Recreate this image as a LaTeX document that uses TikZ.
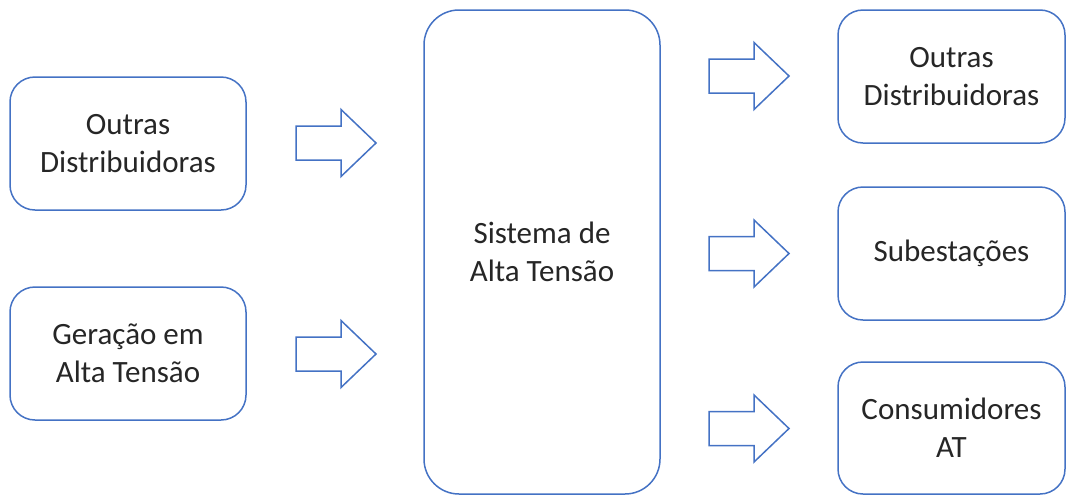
\documentclass[tikz,border=0pt]{standalone}
\usepackage{fontspec}
\setmainfont{Carlito}
\usetikzlibrary{positioning}
\definecolor{boxblue}{HTML}{4472C4}
\definecolor{textgray}{HTML}{262626}
\tikzset{
  block/.style={draw=boxblue, line width=1.5pt, rounded corners=25pt, align=center,
    inner sep=0pt, text=textgray, font=\fontsize{31}{38}\selectfont},
  bigarrow/.style={draw=boxblue, line width=1.5pt, line join=miter}
}
\begin{document}
\begin{tikzpicture}[x=1pt,y=-1pt]
\useasboundingbox (0,0) rectangle (1067,496);
% Input blocks
\node[block, minimum width=236pt, minimum height=133pt] (outrasin) at (128,143.5) {Outras\\Distribuidoras};
\node[block, minimum width=236pt, minimum height=133pt] (geracao) at (128,353.5) {Geração em\\Alta Tensão};
% Central system
\node[block, rounded corners=35pt, minimum width=236pt, minimum height=484pt] (sistema) at (542,252) {Sistema de\\Alta Tensão};
% Output blocks
\node[block, minimum width=227pt, minimum height=133pt] (outrasout) at (951.5,76.5) {Outras\\Distribuidoras};
\node[block, minimum width=227pt, minimum height=133pt] (subest) at (951.5,253.5) {Subestações};
\node[block, minimum width=227pt, minimum height=132pt] (consum) at (951.5,428) {Consumidores\\AT};
% Block arrows into the system
\foreach \y in {143,354} {
  \draw[bigarrow] (296,{\y-17}) -- (341,{\y-17}) -- (341,{\y-33.5}) -- (376,\y)
    -- (341,{\y+33.5}) -- (341,{\y+17}) -- (296,{\y+17}) -- cycle;
}
% Block arrows out of the system
\foreach \y in {76,253.5,428.5} {
  \draw[bigarrow] (709,{\y-17}) -- (754,{\y-17}) -- (754,{\y-33.5}) -- (789,\y)
    -- (754,{\y+33.5}) -- (754,{\y+17}) -- (709,{\y+17}) -- cycle;
}
\end{tikzpicture}
\end{document}
